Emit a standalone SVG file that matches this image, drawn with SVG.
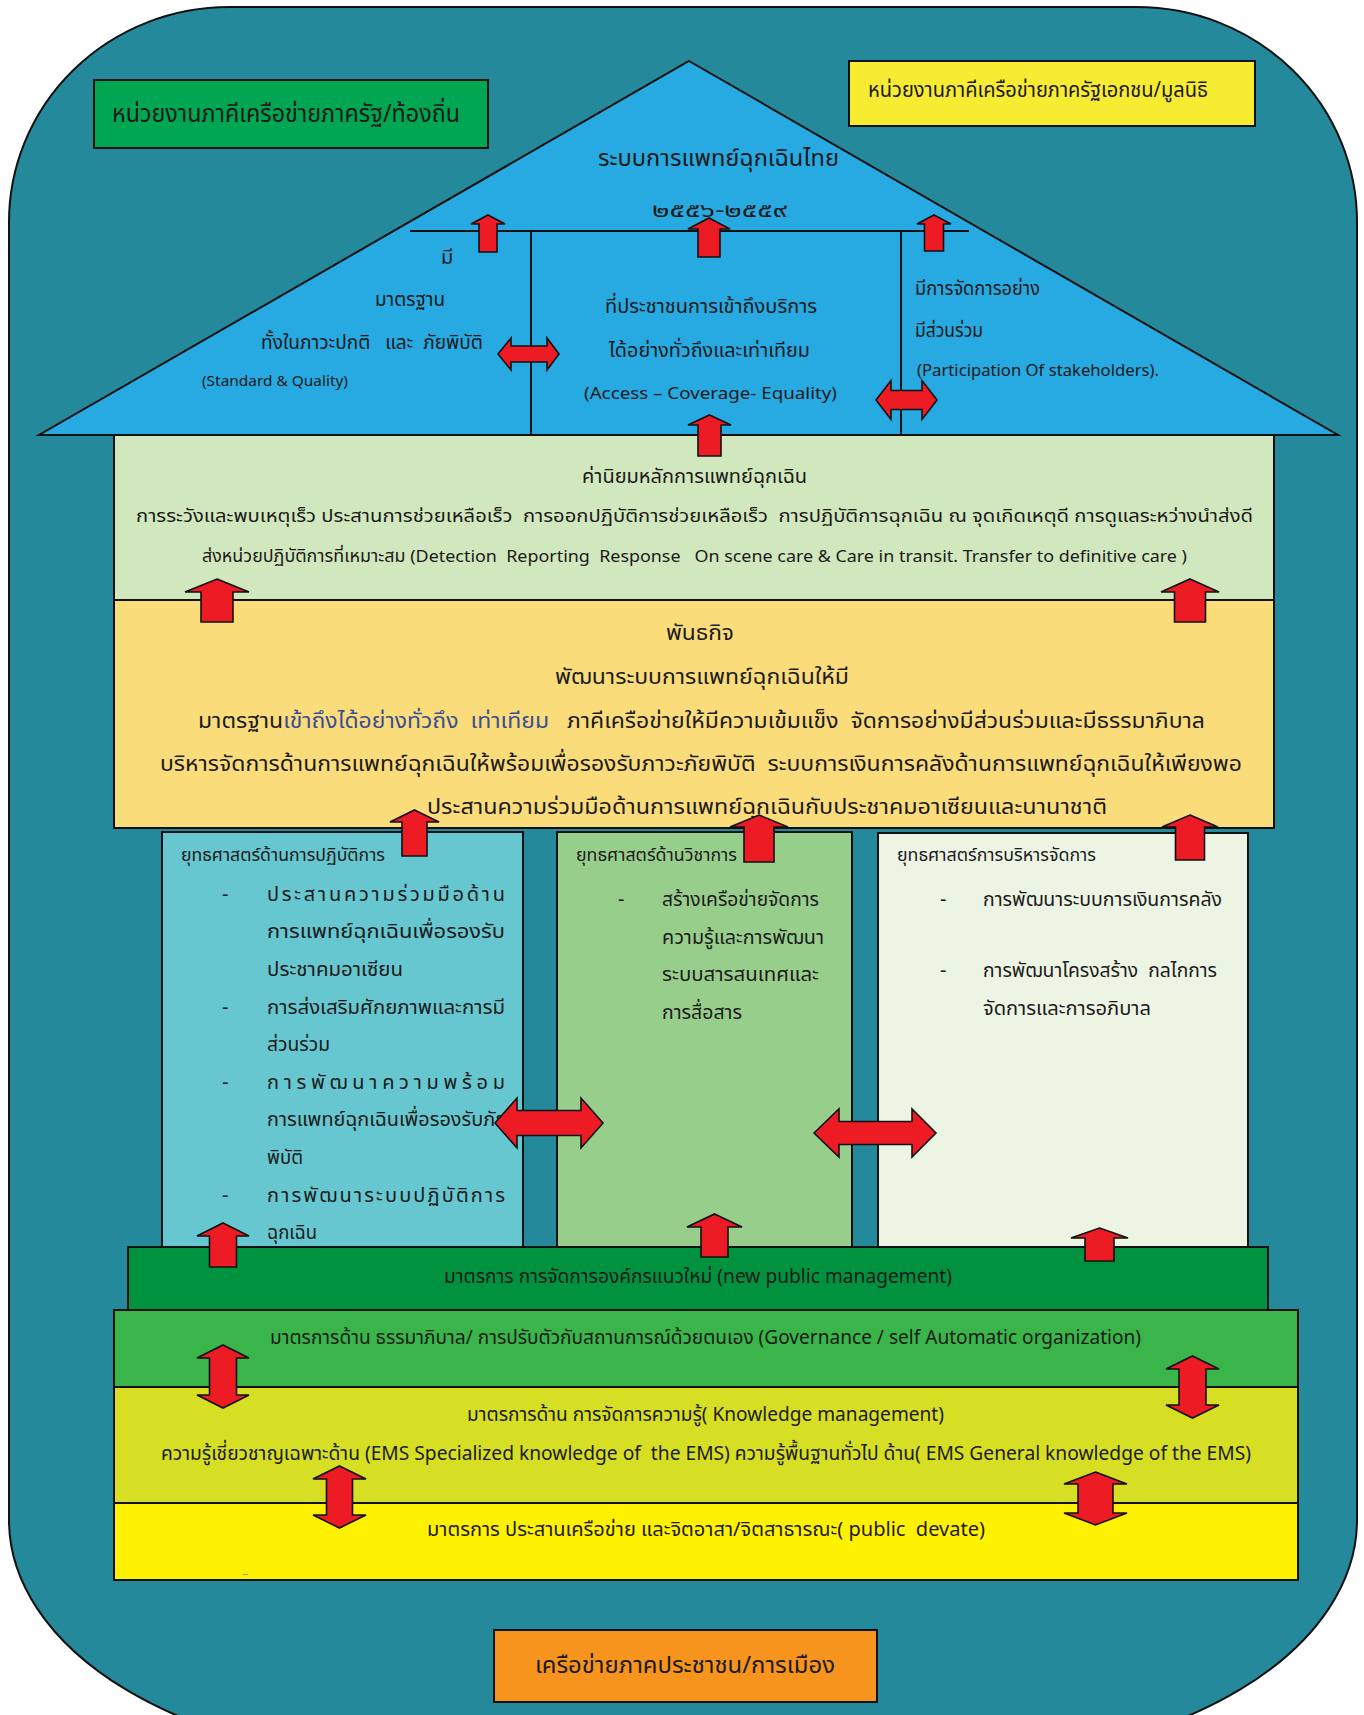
<svg xmlns="http://www.w3.org/2000/svg" width="1364" height="1715" viewBox="0 0 1364 1715">
<style>
.t{font-family:"Noto Sans Thai","Noto Sans","Liberation Sans",sans-serif;fill:#1c1a1a;white-space:pre}
.box{stroke:#111;stroke-width:2}
.ar{fill:#ED1C24;stroke:#111;stroke-width:1.6;stroke-linejoin:miter}
.ln{stroke:#111;stroke-width:2;fill:none}
</style>
<rect width="1364" height="1715" fill="#ffffff"/>
<g id="frame">
<path d="M229,7 H1137 A220,215 0 0 1 1357,222 V1520 A400,240 0 0 1 957,1760 H409 A400,240 0 0 1 9,1520 V222 A220,215 0 0 1 229,7 Z" fill="#25899C" stroke="#111" stroke-width="2"/>
</g>
<g id="state-box">
<rect class="box" x="94" y="80" width="394" height="68" fill="#00A651"/>
<text class="t" x="112" y="122" font-size="25" textLength="348" lengthAdjust="spacingAndGlyphs">หน่วยงานภาคีเครือข่ายภาครัฐ/ท้องถิ่น</text>
</g>
<g id="private-box">
<rect class="box" x="849" y="61" width="406" height="65" fill="#F7EC32"/>
<text class="t" x="868" y="97" font-size="21" textLength="340" lengthAdjust="spacingAndGlyphs">หน่วยงานภาคีเครือข่ายภาครัฐเอกชน/มูลนิธิ</text>
</g>
<g id="roof">
<polygon points="689,61 1338,435 39,435" fill="#27A9E1" stroke="#111" stroke-width="2"/>
<text class="t" x="598" y="166" font-size="23" textLength="241" lengthAdjust="spacingAndGlyphs">ระบบการแพทย์ฉุกเฉินไทย</text>
<text class="t" x="652" y="217" font-size="20" textLength="135" lengthAdjust="spacingAndGlyphs">๒๕๕๖-๒๕๕๙</text>
<text class="t" x="441" y="264" font-size="20">มี</text>
<text class="t" x="375" y="306" font-size="20" textLength="70" lengthAdjust="spacingAndGlyphs">มาตรฐาน</text>
<text class="t" x="261" y="349" font-size="20" textLength="222" lengthAdjust="spacingAndGlyphs">ทั้งในภาวะปกติ   และ  ภัยพิบัติ</text>
<text class="t" x="202" y="386" font-size="15" textLength="146" lengthAdjust="spacingAndGlyphs">(Standard &amp; Quality)</text>
<text class="t" x="605" y="313" font-size="20" textLength="212" lengthAdjust="spacingAndGlyphs">ที่ประชาชนการเข้าถึงบริการ</text>
<text class="t" x="609" y="357" font-size="20" textLength="201" lengthAdjust="spacingAndGlyphs">ได้อย่างทั่วถึงและเท่าเทียม</text>
<text class="t" x="584" y="399" font-size="17" textLength="253" lengthAdjust="spacingAndGlyphs">(Access – Coverage- Equality)</text>
<text class="t" x="915" y="295" font-size="20" textLength="125" lengthAdjust="spacingAndGlyphs">มีการจัดการอย่าง</text>
<text class="t" x="915" y="337" font-size="20" textLength="68" lengthAdjust="spacingAndGlyphs">มีส่วนร่วม</text>
<text class="t" x="917" y="376" font-size="16" textLength="242" lengthAdjust="spacingAndGlyphs">(Participation Of stakeholders).</text>
</g>
<g id="values">
<rect class="box" x="114" y="435" width="1160" height="165" fill="#D1E7BD"/>
<text class="t" x="582" y="483" font-size="19" textLength="225" lengthAdjust="spacingAndGlyphs">ค่านิยมหลักการแพทย์ฉุกเฉิน</text>
<text class="t" x="136" y="522" font-size="18" textLength="1117" lengthAdjust="spacingAndGlyphs">การระวังและพบเหตุเร็ว ประสานการช่วยเหลือเร็ว  การออกปฏิบัติการช่วยเหลือเร็ว  การปฏิบัติการฉุกเฉิน ณ จุดเกิดเหตุดี การดูแลระหว่างนำส่งดี</text>
<text class="t" x="202" y="562" font-size="17" textLength="985" lengthAdjust="spacingAndGlyphs">ส่งหน่วยปฏิบัติการที่เหมาะสม (Detection  Reporting  Response   On scene care &amp; Care in transit. Transfer to definitive care )</text>
</g>
<g id="mission">
<rect class="box" x="114" y="600" width="1160" height="228" fill="#FADC7B"/>
<text class="t" x="666" y="640" font-size="21" textLength="68" lengthAdjust="spacingAndGlyphs">พันธกิจ</text>
<text class="t" x="555" y="684" font-size="22" textLength="294" lengthAdjust="spacingAndGlyphs">พัฒนาระบบการแพทย์ฉุกเฉินให้มี</text>
<text class="t" x="198" y="728" font-size="21" textLength="1007" lengthAdjust="spacingAndGlyphs">มาตรฐาน<tspan fill="#3B4E94">เข้าถึงได้อย่างทั่วถึง  เท่าเทียม</tspan>   ภาคีเครือข่ายให้มีความเข้มแข็ง  จัดการอย่างมีส่วนร่วมและมีธรรมาภิบาล</text>
<text class="t" x="160" y="771" font-size="22" textLength="1082" lengthAdjust="spacingAndGlyphs">บริหารจัดการด้านการแพทย์ฉุกเฉินให้พร้อมเพื่อรองรับภาวะภัยพิบัติ  ระบบการเงินการคลังด้านการแพทย์ฉุกเฉินให้เพียงพอ</text>
<text class="t" x="427" y="814" font-size="21" textLength="680" lengthAdjust="spacingAndGlyphs">ประสานความร่วมมือด้านการแพทย์ฉุกเฉินกับประชาคมอาเซียนและนานาชาติ</text>
</g>
<g id="strategy-operations">
<rect class="box" x="162" y="832" width="361" height="415" fill="#66C7D0"/>
<text class="t" x="181" y="861" font-size="17" textLength="204" lengthAdjust="spacingAndGlyphs">ยุทธศาสตร์ด้านการปฏิบัติการ</text>
<text class="t" x="222" y="901" font-size="20">-</text>
<text class="t" x="267" y="901" font-size="20" textLength="238" lengthAdjust="spacing">ประสานความร่วมมือด้าน</text>
<text class="t" x="267" y="938" font-size="20" textLength="238" lengthAdjust="spacingAndGlyphs">การแพทย์ฉุกเฉินเพื่อรองรับ</text>
<text class="t" x="267" y="976" font-size="20" textLength="136" lengthAdjust="spacingAndGlyphs">ประชาคมอาเซียน</text>
<text class="t" x="222" y="1014" font-size="20">-</text>
<text class="t" x="267" y="1014" font-size="20" textLength="238" lengthAdjust="spacingAndGlyphs">การส่งเสริมศักยภาพและการมี</text>
<text class="t" x="267" y="1051" font-size="20" textLength="63" lengthAdjust="spacingAndGlyphs">ส่วนร่วม</text>
<text class="t" x="222" y="1089" font-size="20">-</text>
<text class="t" x="267" y="1089" font-size="20" textLength="238" lengthAdjust="spacing">การพัฒนาความพร้อม</text>
<text class="t" x="267" y="1126" font-size="20" textLength="240" lengthAdjust="spacingAndGlyphs">การแพทย์ฉุกเฉินเพื่อรองรับภัย</text>
<text class="t" x="267" y="1164" font-size="20" textLength="36" lengthAdjust="spacingAndGlyphs">พิบัติ</text>
<text class="t" x="222" y="1202" font-size="20">-</text>
<text class="t" x="267" y="1202" font-size="20" textLength="238" lengthAdjust="spacing">การพัฒนาระบบปฏิบัติการ</text>
<text class="t" x="267" y="1239" font-size="20" textLength="50" lengthAdjust="spacingAndGlyphs">ฉุกเฉิน</text>
</g>
<g id="strategy-academic">
<rect class="box" x="557" y="832" width="295" height="415" fill="#98CE8C"/>
<text class="t" x="576" y="861" font-size="17" textLength="161" lengthAdjust="spacingAndGlyphs">ยุทธศาสตร์ด้านวิชาการ</text>
<text class="t" x="618" y="906" font-size="20">-</text>
<text class="t" x="662" y="906" font-size="20" textLength="157" lengthAdjust="spacingAndGlyphs">สร้างเครือข่ายจัดการ</text>
<text class="t" x="662" y="944" font-size="20" textLength="162" lengthAdjust="spacingAndGlyphs">ความรู้และการพัฒนา</text>
<text class="t" x="662" y="981" font-size="20" textLength="157" lengthAdjust="spacingAndGlyphs">ระบบสารสนเทศและ</text>
<text class="t" x="662" y="1019" font-size="20" textLength="80" lengthAdjust="spacingAndGlyphs">การสื่อสาร</text>
</g>
<g id="strategy-management">
<rect class="box" x="878" y="833" width="370" height="414" fill="#ECF4E4"/>
<text class="t" x="897" y="861" font-size="17" textLength="199" lengthAdjust="spacingAndGlyphs">ยุทธศาสตร์การบริหารจัดการ</text>
<text class="t" x="940" y="906" font-size="20">-</text>
<text class="t" x="983" y="906" font-size="20" textLength="239" lengthAdjust="spacingAndGlyphs">การพัฒนาระบบการเงินการคลัง</text>
<text class="t" x="940" y="977" font-size="20">-</text>
<text class="t" x="983" y="977" font-size="20" textLength="234" lengthAdjust="spacingAndGlyphs">การพัฒนาโครงสร้าง  กลไกการ</text>
<text class="t" x="983" y="1015" font-size="20" textLength="168" lengthAdjust="spacingAndGlyphs">จัดการและการอภิบาล</text>
</g>
<g id="measure-npm">
<rect class="box" x="128" y="1247" width="1140" height="63" fill="#00923F"/>
<text class="t" x="444" y="1283" font-size="20" textLength="508" lengthAdjust="spacingAndGlyphs">มาตรการ การจัดการองค์กรแนวใหม่ (new public management)</text>
</g>
<g id="measure-governance">
<rect class="box" x="114" y="1310" width="1184" height="77" fill="#39B54A"/>
<text class="t" x="270" y="1344" font-size="20" textLength="871" lengthAdjust="spacingAndGlyphs">มาตรการด้าน ธรรมาภิบาล/ การปรับตัวกับสถานการณ์ด้วยตนเอง (Governance / self Automatic organization)</text>
</g>
<g id="measure-knowledge">
<rect class="box" x="114" y="1387" width="1184" height="116" fill="#D6DF23"/>
<text class="t" x="467" y="1421" font-size="20" textLength="477" lengthAdjust="spacingAndGlyphs">มาตรการด้าน การจัดการความรู้( Knowledge management)</text>
<text class="t" x="161" y="1460" font-size="20" textLength="1090" lengthAdjust="spacingAndGlyphs">ความรู้เชี่ยวชาญเฉพาะด้าน (EMS Specialized knowledge of  the EMS) ความรู้พื้นฐานทั่วไป ด้าน( EMS General knowledge of the EMS)</text>
</g>
<g id="measure-network">
<rect class="box" x="114" y="1503" width="1184" height="77" fill="#FFF200"/>
<text class="t" x="427" y="1536" font-size="20" textLength="558" lengthAdjust="spacingAndGlyphs">มาตรการ ประสานเครือข่าย และจิตอาสา/จิตสาธารณะ( public  devate)</text>
<rect x="243" y="1574" width="5" height="1" fill="#999"/>
</g>
<g id="public-box">
<rect class="box" x="494" y="1630" width="383" height="72" fill="#F7941D"/>
<text class="t" x="535" y="1673" font-size="23" textLength="300" lengthAdjust="spacingAndGlyphs">เครือข่ายภาคประชาชน/การเมือง</text>
</g>
<g id="connectors">
<line class="ln" x1="410" y1="231" x2="969" y2="231"/>
<line class="ln" x1="531" y1="231" x2="531" y2="435"/>
<line class="ln" x1="901" y1="231" x2="901" y2="435"/>
<polygon class="ar" points="488,215 505,224 497,224 497,252 479,252 479,224 471,224"/>
<polygon class="ar" points="709,218 730,229 720,229 720,257 698,257 698,229 688,229"/>
<polygon class="ar" points="934,215 951,224 943.5,224 943.5,251 924.5,251 924.5,224 917,224"/>
<polygon class="ar" points="709.5,415 731,425 721,425 721,456 698,456 698,425 688,425"/>
<polygon class="ar" points="217,579 249,592 233,592 233,622 201,622 201,592 185,592"/>
<polygon class="ar" points="1190,579 1219,592 1205.5,592 1205.5,622 1174.5,622 1174.5,592 1161,592"/>
<polygon class="ar" points="414.5,810 439,822 427,822 427,856 402,856 402,822 390,822"/>
<polygon class="ar" points="759,815 788,827 774,827 774,862 744,862 744,827 730,827"/>
<polygon class="ar" points="1190,815 1218,827 1204.5,827 1204.5,860 1175.5,860 1175.5,827 1162,827"/>
<polygon class="ar" points="223,1223 249,1236 236.5,1236 236.5,1267 209.5,1267 209.5,1236 197,1236"/>
<polygon class="ar" points="714.5,1214 742,1227 728,1227 728,1257 701,1257 701,1227 687,1227"/>
<polygon class="ar" points="1099.5,1228 1128,1238 1114,1238 1114,1261 1085,1261 1085,1238 1071,1238"/>
<polygon class="ar" points="498,354 511,338 511,346 547,346 547,338 559,354 547,370 547,362 511,362 511,370"/>
<polygon class="ar" points="876,400 891,380.5 891,390.5 922,390.5 922,380.5 937,400 922,419.5 922,409.5 891,409.5 891,419.5"/>
<polygon class="ar" points="495,1123 517,1098 517,1110.5 581,1110.5 581,1098 603,1123 581,1148 581,1135.5 517,1135.5 517,1148"/>
<polygon class="ar" points="814,1133 839,1109 839,1121.5 912,1121.5 912,1109 936,1133 912,1157 912,1144.5 839,1144.5 839,1157"/>
<polygon class="ar" points="223,1345 249,1358 236.5,1358 236.5,1395 249,1395 223,1408 197,1395 209.5,1395 209.5,1358 197,1358"/>
<polygon class="ar" points="1192.5,1356 1219,1369 1206,1369 1206,1405 1219,1405 1192.5,1418 1166,1405 1179,1405 1179,1369 1166,1369"/>
<polygon class="ar" points="339.5,1466 366,1479 352.5,1479 352.5,1515 366,1515 339.5,1528 313,1515 326.5,1515 326.5,1479 313,1479"/>
<polygon class="ar" points="1095.5,1472 1127,1484 1113,1484 1113,1513 1127,1513 1095.5,1525 1064,1513 1078,1513 1078,1484 1064,1484"/>
</g>
</svg>
